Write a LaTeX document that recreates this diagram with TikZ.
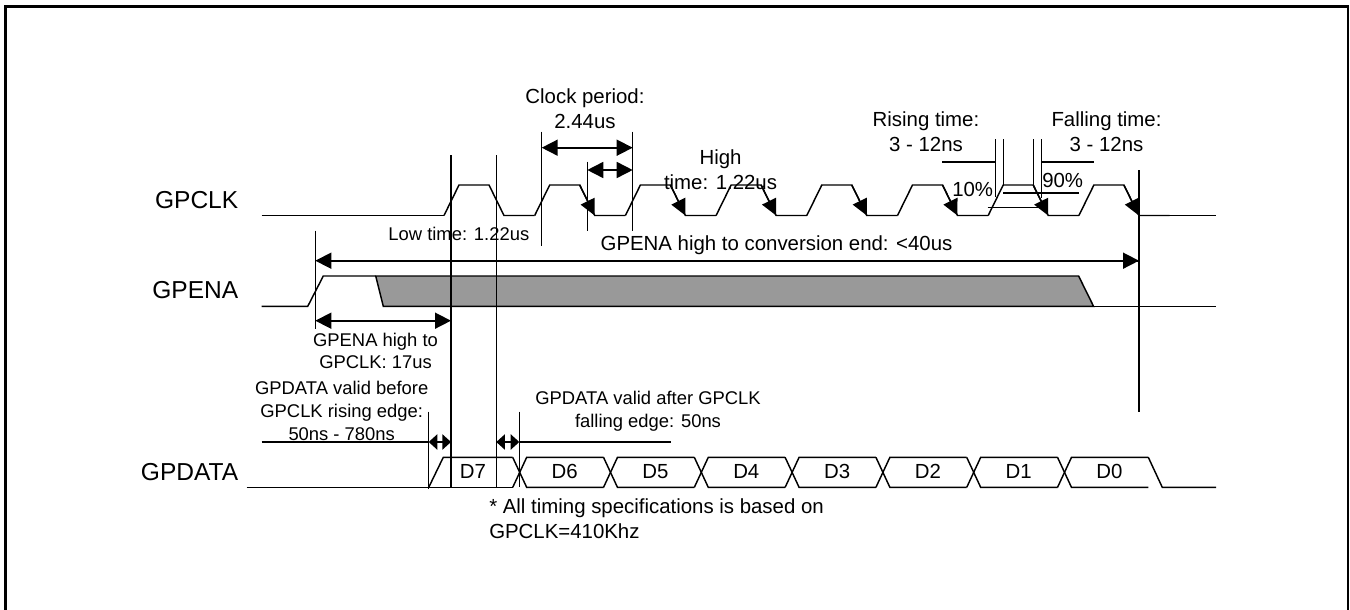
\documentclass[tikz,border=0pt]{standalone}
\usepackage{fontspec}
\setmainfont{Liberation Sans}
\usetikzlibrary{arrows.meta}
\tikzset{
  wave/.style={line width=1.1pt,line join=miter},
  mark line/.style={line width=1.1pt},
  thin mark/.style={line width=0.9pt},
  span/.style={line width=1.2pt,{Triangle[length=12pt,width=12pt]}-{Triangle[length=12pt,width=12pt]}},
  span end/.style={line width=1.2pt,-{Triangle[length=12pt,width=12pt]}},
  short span/.style={line width=1.1pt,{Triangle[length=6.5pt,width=11.5pt]}-{Triangle[length=6.5pt,width=11.5pt]}},
  edge tip/.style={line width=1.1pt,-{Triangle[length=12pt,width=11.5pt]}},
  signame/.style={inner sep=0pt,font=\fontsize{18.4}{22}\selectfont},
  biglabel/.style={inner sep=0pt,align=center,font=\fontsize{15.3}{19}\selectfont},
  smalllabel/.style={inner sep=0pt,align=center,font=\fontsize{13.8}{17}\selectfont}
}
\begin{document}
\begin{tikzpicture}[x=0.75pt,y=-0.75pt]
  \useasboundingbox (0,0) rectangle (1350,610);
  \draw[line width=2pt] (5.7,610) -- (5.7,6.5) -- (1348,6.5) -- (1348,610);

  % signal names
  \node[signame,anchor=east] (gpclk) at (238.5,200) {GPCLK};
  \node[signame,anchor=east] (gpena) at (238.5,290) {GPENA};
  \node[signame,anchor=east] (gpdata) at (238.5,471.7) {GPDATA};

  % GPCLK
  \draw[wave] (261.7,215.5) -- (444,215.5);
  \foreach \n in {0,...,7} {
    \pgfmathsetmacro{\xa}{444+90.7*\n}
    \draw[wave] (\xa,215.5) -- ++(15,-30.5) -- ++(30,0) -- ++(15,30.5) -- ++(30.7,0);
  }
  \draw[wave] (1139,215.5) -- (1216,215.5);
  \foreach \n in {1,...,7} {
    \pgfmathsetmacro{\xa}{444+45+90.7*\n}
    \draw[edge tip] (\xa,185) -- ++(15,30.5);
  }

  % GPENA
  \draw[wave] (261.7,306.4) -- (307.7,306.4) -- (323.3,276) -- (375.7,276);
  \draw[wave,fill={rgb,255:red,153;green,153;blue,153}] (375.7,276) -- (383.3,306.4) -- (1093.6,306.4) -- (1078.6,276) -- cycle;
  \draw[wave] (1093.6,306.4) -- (1216,306.4);

  % GPDATA
  \draw[wave] (246.5,487.4) -- (512.7,487.4);
  \draw[wave] (428.7,487.4) -- (443.3,457.3) -- (512.7,457.3);
  \foreach \n/\lab in {0/6,1/5,2/4,3/3,4/2,5/1,6/0} {
    \pgfmathsetmacro{\xa}{512.7+90.8*\n}
    \draw[wave] (\xa,457.3) -- ++(14,30.1) -- ++(76.8,0);
    \draw[wave] (\xa,487.4) -- ++(14,-30.1) -- ++(76.8,0);
    \node[biglabel] (d\lab) at ({\xa+52},471.7) {D\lab};
  }
  \draw[wave] (1148.3,457.3) -- (1162.3,487.4) -- (1216,487.4);
  \node[biglabel] (d7) at (473,471.7) {D7};

  % edges and markers
  \coordinate (enaT) at (315.3,230.7);
  \coordinate (enaB) at (315.3,329.3);
  \coordinate (clkaT) at (451,155);
  \coordinate (clkaB) at (451,487.4);
  \coordinate (clkbT) at (496.3,155);
  \coordinate (clkbB) at (496.3,487.4);
  \coordinate (perT) at (541.7,131.7);
  \coordinate (perB) at (541.7,245.7);
  \coordinate (hiT) at (587.3,161.7);
  \coordinate (hiB) at (587.3,231);
  \coordinate (perrT) at (632.7,131.7);
  \coordinate (perrB) at (632.7,231);
  \coordinate (endT) at (1139,170);
  \coordinate (endB) at (1139,412);
  \coordinate (setT) at (428.7,411.7);
  \coordinate (setB) at (428.7,489);
  \coordinate (holdT) at (519.3,411.7);
  \coordinate (holdB) at (519.3,487.4);
  \foreach \a/\b in {enaT/enaB,clkaT/clkaB,clkbT/clkbB,perT/perB,hiT/hiB,perrT/perrB,endT/endB}
    \draw[mark line] (\a) -- (\b);
  \foreach \a/\b in {setT/setB,holdT/holdB}
    \draw[thin mark] (\a) -- (\b);

  % clock period, high time
  \draw[span] (541.7,147.7) -- (632.7,147.7);
  \draw[span] (587.3,170) -- (632.7,170);
  \node[biglabel] (period) at (585,109) {Clock period:\\2.44us};
  \node[biglabel] (hightime) at (720.5,169.5) {High\\time: 1.22us};
  \node[smalllabel,anchor=east] (lowtime) at (529.5,234) {Low time: 1.22us};

  % rise and fall
  \coordinate (riseA) at (995.7,139.3);
  \coordinate (riseB) at (1003.3,139.3);
  \coordinate (fallA) at (1033.3,139.3);
  \coordinate (fallB) at (1041.3,139.3);
  \draw[thin mark] (riseA) -- (995.7,197);
  \draw[thin mark] (riseB) -- (1003.3,185.5);
  \draw[thin mark] (fallA) -- (1033.3,185.5);
  \draw[thin mark] (fallB) -- (1041.3,198);
  \draw[thin mark] (942.3,162) -- (995.7,162);
  \draw[thin mark] (1041.3,162) -- (1094,162);
  \draw[thin mark] (1003.3,193) -- (1079.3,193);
  \draw[thin mark] (987.7,207.7) -- (1041.3,207.7);
  \node[biglabel] (rising) at (926,132) {Rising time:\\3 - 12ns};
  \node[biglabel] (falling) at (1106.5,132) {Falling time:\\3 - 12ns};
  \node[biglabel] (ten) at (972.7,189) {10\%};
  \node[biglabel] (ninety) at (1062.7,180.7) {90\%};

  % enable
  \draw[span end,{Triangle[length=12pt,width=12pt]}-] (315.3,260.7) -- (1139,260.7);
  \draw[span end] (1100,260.7) -- (1139,260.7);
  \node[biglabel] (convend) at (776.5,245) {GPENA high to conversion end: <40us};
  \draw[span] (315.3,320.7) -- (451,320.7);
  \node[smalllabel] (enaclk) at (375.5,351) {GPENA high to\\GPCLK: 17us};

  % data setup, hold
  \draw[thin mark] (261.7,442) -- (428.7,442);
  \draw[short span] (428.7,442) -- (451,442);
  \draw[short span] (496.3,442) -- (519.3,442);
  \draw[thin mark] (519.3,442) -- (671.4,442);
  \node[smalllabel] (before) at (341.7,411) {GPDATA valid before\\GPCLK rising edge:\\50ns - 780ns};
  \node[smalllabel] (after) at (648,411.5) {GPDATA valid after GPCLK\\falling edge: 50ns};
  \node[biglabel,align=left,anchor=west] (note) at (489,518.5) {* All timing specifications is based on\\GPCLK=410Khz};
\end{tikzpicture}
\end{document}
